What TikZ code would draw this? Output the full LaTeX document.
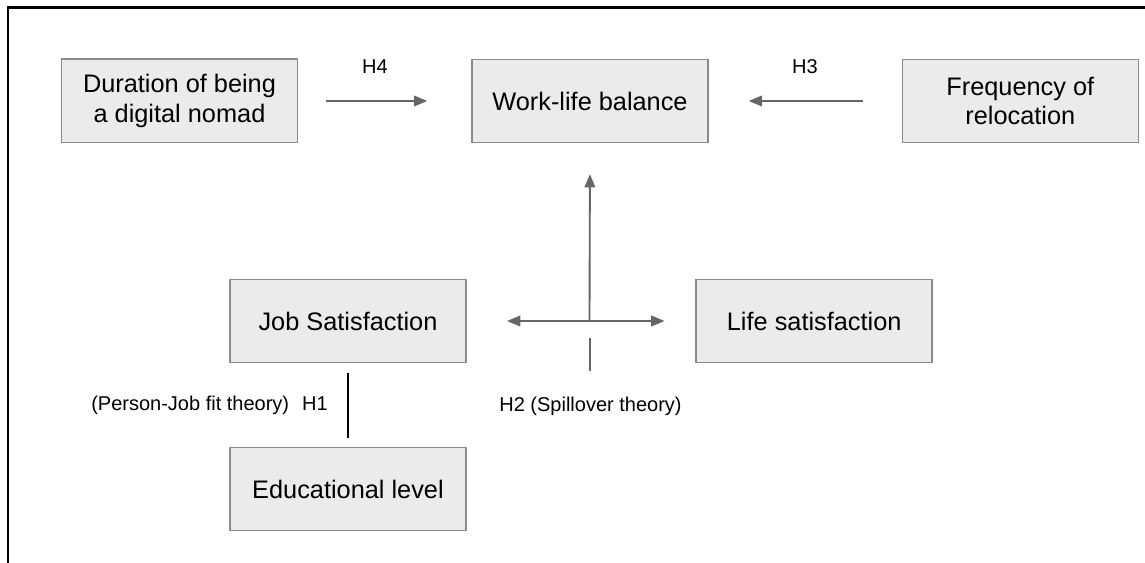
\documentclass[tikz,border=0pt]{standalone}
\usepackage{fontspec}
\setmainfont{Liberation Sans}
\usetikzlibrary{arrows.meta}
\definecolor{boxfill}{HTML}{EBEBEB}
\definecolor{boxdraw}{HTML}{8A8A8A}
\definecolor{arrgray}{HTML}{666666}
\tikzset{
  varbox/.style={draw=boxdraw, line width=1.1pt, fill=boxfill, minimum width=177pt, minimum height=62.6pt, inner sep=0pt, align=center, font=\fontsize{19}{22}\selectfont, text=black},
  lbl/.style={font=\fontsize{15}{18}\selectfont, text=black, inner sep=0pt},
  arr/.style={draw=arrgray, line width=1.4pt, -{Triangle[length=10pt,width=8pt]}},
  darr/.style={draw=arrgray, line width=1.4pt, {Triangle[length=10pt,width=8pt]}-{Triangle[length=10pt,width=8pt]}},
  plain/.style={draw=arrgray, line width=1.4pt},
  hone/.style={draw=black, line width=2pt}
}
\begin{document}
\begin{tikzpicture}[x=0.75pt, y=-0.75pt]
\useasboundingbox (0,0) rectangle (1145,562);
\draw[line width=1.6pt, black] (8,570) -- (8,7.5) -- (1150,7.5);

\node[varbox] (dur) at (179.5,100.8) {Duration of being\\a digital nomad};
\node[varbox] (wlb) at (590,101) {Work-life balance};
\node[varbox] (freq) at (1020.3,101) {Frequency of\\relocation};
\node[varbox] (job) at (348,321) {Job Satisfaction};
\node[varbox] (life) at (814.2,321) {Life satisfaction};
\node[varbox] (edu) at (348,489) {Educational level};

\coordinate (cross) at (589.5,321);
\coordinate (s1) at (590,338);
\coordinate (s2) at (590,371);

\draw[arr, shorten <=21pt, shorten >=33pt] (dur.east |- wlb) -- (wlb);
\draw[arr, shorten <=29.3pt, shorten >=30pt] (freq) -- (wlb);
\draw[arr, shorten >=23pt] (cross) -- (wlb.south);
\draw[darr, shorten <=30.2pt, shorten >=23.2pt] (job) -- (life);
\draw[plain] (s1) -- (s2);
\draw[hone, shorten <=6.8pt, shorten >=6.2pt] (job.south) -- (edu.north);

\node[lbl] (h4) at (375,67) {H4};
\node[lbl] (h3) at (805,67) {H3};
\node[lbl] (h2) at (590.5,406) {H2 (Spillover theory)};
\node[lbl, anchor=east] (h1) at (328,405.5) {(Person-Job fit theory)\hspace{9.75pt}H1};
\end{tikzpicture}
\end{document}
